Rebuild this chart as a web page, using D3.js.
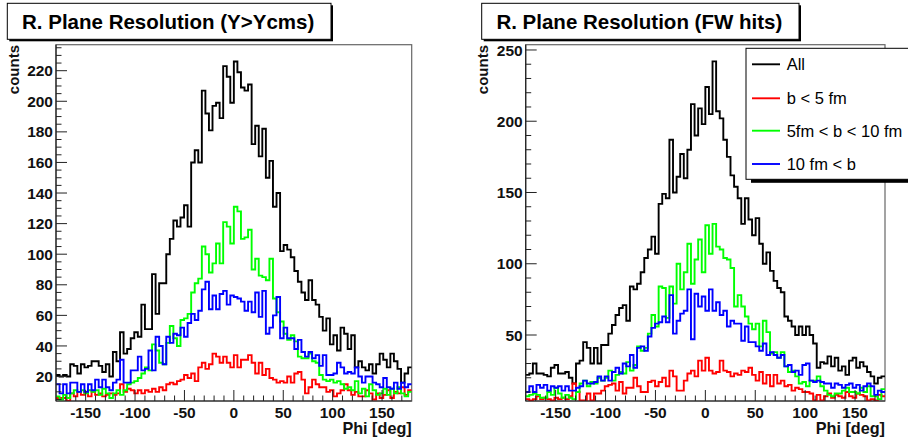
<!DOCTYPE html>
<html><head><meta charset="utf-8">
<script src="https://cdn.jsdelivr.net/npm/d3@7/dist/d3.min.js"></script>
<style>
body{margin:0;background:#fff}
svg{display:block}
text{font-family:"Liberation Sans",Arial,Helvetica,sans-serif}
</style>
</head><body>
<svg id="chart" width="908" height="443"></svg>
<script>
// ---------------- data ----------------
const phiMin = -180, phiMax = 180, nBins = 100;
const seriesNames = ["All", "b < 5 fm", "5fm < b < 10 fm", "10 fm < b"];
const seriesColors = ["#000000", "#ff0000", "#00ff00", "#0000ff"];
const xTickValues = [-150, -100, -50, 0, 50, 100, 150];
const leftYTicks = [20, 40, 60, 80, 100, 120, 140, 160, 180, 200, 220];
const rightYTicks = [50, 100, 150, 200, 250];
const leftTitle = "R. Plane Resolution (Y>Ycms)";
const rightTitle = "R. Plane Resolution (FW hits)";
const xLabel = "Phi [deg]";
const yLabel = "counts";

// left panel (Y>Ycms)
const leftAll = [21,20,21,20,28,27,22,28,26,27, 30,30,27,23,28,20,36,30,49,35,
  38,45,49,46,67,51,51,87,61,81, 81,100,110,122,118,124,132,118,160,168,
  160,207,192,181,197,199,189,223,216,199, 226,219,209,207,211,172,184,164,182,150,
  161,131,140,102,106,103,98,89,82,75, 70,83,70,67,59,50,58,41,47,37,
  52,48,38,47,26,30,26,24,28,22, 28,35,31,26,35,30,25,16,22,26];
const leftB5 = [6,6,6,4,9,7,10,8,10,7, 10,8,9,7,8,9,8,9,15,10,
  12,11,9,11,9,11,10,12,10,13, 11,15,16,15,17,18,21,19,22,17,
  26,29,25,28,35,33,29,33,29,26, 34,26,31,31,34,29,22,29,21,25,
  19,18,16,17,16,20,16,22,23,18, 9,13,18,15,13,13,10,11,7,9,
  11,15,11,8,10,7,7,11,9,5, 9,6,8,11,6,10,9,13,8,11];
const leftB5to10 = [7,5,8,6,9,11,10,11,9,11, 10,11,8,12,9,6,9,11,8,11,
  15,16,17,19,22,26,24,41,37,29, 28,42,53,45,40,57,58,61,75,81,
  84,105,100,88,94,107,94,121,118,107, 131,128,110,111,116,90,97,86,85,83,
  97,71,62,56,48,44,47,43,33,32, 32,35,30,29,21,18,17,18,16,17,
  15,12,13,11,17,9,12,7,15,11, 8,9,12,8,12,9,13,9,7,10];
const leftB10 = [15,9,15,9,16,16,10,15,10,15, 11,18,13,18,13,11,16,18,31,16,
  16,24,24,33,24,25,37,24,46,40, 28,46,42,48,47,52,46,55,61,57,
  63,77,82,64,73,64,74,76,67,73, 72,71,69,63,69,62,75,59,76,48,
  52,60,72,45,52,45,45,38,44,36, 33,36,32,34,27,34,21,21,22,29,
  26,22,23,22,26,20,16,20,20,16, 15,13,19,13,12,16,12,16,13,15];

// right panel (FW hits)
const rightAll = [22,23,30,23,23,22,21,27,29,23, 23,24,20,16,30,32,45,41,30,41,
  30,43,43,51,57,64,69,71,60,84, 82,86,94,104,110,119,107,142,149,146,
  187,150,161,177,160,180,212,190,209,198, 224,205,242,207,202,187,175,162,154,146,
  128,146,131,120,132,114,100,108,95,88, 83,80,63,60,56,50,56,50,56,50,
  44,27,31,30,35,28,34,25,28,22, 32,34,27,31,28,24,21,16,20,21];
const rightB5 = [5,4,5,7,5,6,5,4,6,5, 6,5,7,16,10,4,4,9,4,9,
  9,11,14,15,16,11,17,9,13,13, 20,14,10,10,17,18,14,17,20,14,
  25,21,11,11,18,23,25,21,32,25, 34,25,23,24,32,25,24,21,23,22,
  25,24,27,22,18,24,16,22,14,22, 16,18,14,15,11,13,12,10,10,9,
  4,8,4,7,9,6,8,7,6,10, 7,6,9,8,7,4,5,4,8,7];
const rightB5to10 = [7,8,9,8,6,6,10,8,13,9, 6,8,6,5,10,16,18,14,17,16,
  20,18,20,25,18,22,24,23,31,25, 29,42,39,41,51,64,56,84,83,62,
  84,72,100,82,94,114,86,103,117,94, 127,107,128,112,110,104,103,97,70,78,
  70,63,58,54,58,42,60,52,37,38, 34,38,28,24,25,21,16,17,14,18,
  18,21,14,11,8,7,9,9,11,13, 10,10,9,13,10,14,7,7,5,12];
const rightB10 = [10,14,10,15,13,15,11,14,13,14, 11,14,11,11,13,14,18,16,16,17,
  21,18,21,18,24,27,23,30,28,36, 27,41,42,39,49,55,58,59,63,59,
  78,51,60,65,67,82,47,79,70,77, 67,82,67,73,64,67,56,60,58,58,
  46,56,45,45,42,39,44,36,38,36, 34,36,28,29,24,25,22,29,30,18,
  17,18,17,16,16,13,16,15,13,15, 16,13,15,11,14,16,14,8,11,10];

// ---------------- drawing ----------------
const svg = d3.select("#chart");
const panels = [
  {title: leftTitle, series: [leftAll, leftB5, leftB5to10, leftB10],
   frame: {x0: 56, x1: 411.7, y0: 44.7, y1: 401}, yDomain: [4, 237],
   yTicks: leftYTicks, yMinorStep: 5,
   titleBox: {x0: 7.3, x1: 331, y0: 3.3, y1: 39.3}, countsX: 13, legend: false},
  {title: rightTitle, series: [rightAll, rightB5, rightB5to10, rightB10],
   frame: {x0: 525.7, x1: 885, y0: 44.7, y1: 401}, yDomain: [3.7, 253.7],
   yTicks: rightYTicks, yMinorStep: 10,
   titleBox: {x0: 481.7, x1: 799, y0: 3.3, y1: 39.3}, countsX: 482, legend: true}
];

const binW = (phiMax - phiMin) / nBins;
const edges = d3.range(nBins + 1).map(i => phiMin + i * binW);

panels.forEach((p, pi) => {
  const f = p.frame;
  const x = d3.scaleLinear().domain([phiMin, phiMax]).range([f.x0, f.x1]);
  const y = d3.scaleLinear().domain(p.yDomain).range([f.y1, f.y0]);
  const g = svg.append("g");

  const clipId = "clip" + pi;
  svg.append("clipPath").attr("id", clipId).append("rect")
    .attr("x", f.x0).attr("y", f.y0).attr("width", f.x1 - f.x0).attr("height", f.y1 - f.y0);

  g.append("rect").attr("x", f.x0).attr("y", f.y0)
    .attr("width", f.x1 - f.x0).attr("height", f.y1 - f.y0)
    .attr("fill", "none").attr("stroke", "#666").attr("stroke-width", 1.2);

  const line = d3.line().curve(d3.curveStepAfter).x(d => x(d[0])).y(d => y(d[1]));
  const hg = g.append("g").attr("clip-path", `url(#${clipId})`);
  p.series.forEach((vals, si) => {
    const pts = vals.map((v, i) => [edges[i], v]);
    pts.push([edges[nBins], vals[nBins - 1]]);
    hg.append("path").attr("d", line(pts)).attr("fill", "none")
      .attr("stroke", seriesColors[si]).attr("stroke-width", 1.9)
      .attr("stroke-linejoin", "miter");
  });

  const xMinor = d3.range(-170, 180, 10);
  const ax = g.append("g");
  ax.append("line").attr("x1", f.x0).attr("x2", f.x1).attr("y1", f.y1).attr("y2", f.y1)
    .attr("stroke", "#222").attr("stroke-width", 1.2);
  xMinor.forEach(v => {
    const major = xTickValues.includes(v);
    ax.append("line").attr("x1", x(v)).attr("x2", x(v))
      .attr("y1", f.y1).attr("y2", f.y1 - (major ? 11 : 5.5))
      .attr("stroke", "#222").attr("stroke-width", 1);
  });
  xTickValues.forEach(v => {
    ax.append("text").attr("x", x(v)).attr("y", 417.5).attr("text-anchor", "middle")
      .attr("font-size", 15.5).attr("font-weight", "bold").attr("fill", "#111")
      .text(v < 0 ? "-" + Math.abs(v) : String(v));
  });
  ax.append("text").attr("x", f.x1).attr("y", 434).attr("text-anchor", "end")
    .attr("font-size", 16.2).attr("font-weight", "bold").attr("fill", "#111").text(xLabel);

  const ay = g.append("g");
  ay.append("line").attr("x1", f.x0).attr("x2", f.x0).attr("y1", f.y0).attr("y2", f.y1)
    .attr("stroke", "#222").attr("stroke-width", 1.2);
  const yMinor = d3.range(Math.ceil(p.yDomain[0] / p.yMinorStep) * p.yMinorStep, p.yDomain[1], p.yMinorStep);
  yMinor.forEach(v => {
    const major = p.yTicks.includes(v);
    ay.append("line").attr("x1", f.x0).attr("x2", f.x0 + (major ? 11 : 5.5))
      .attr("y1", y(v)).attr("y2", y(v)).attr("stroke", "#222").attr("stroke-width", 1);
  });
  p.yTicks.forEach(v => {
    ay.append("text").attr("x", f.x0 - 3).attr("y", y(v)).attr("dy", "0.36em")
      .attr("text-anchor", "end").attr("font-size", 15.5).attr("font-weight", "bold")
      .attr("fill", "#111").text(v);
  });
  ay.append("text").attr("transform", `translate(${p.countsX + 5.5},45) rotate(-90)`)
    .attr("text-anchor", "end").attr("font-size", 15).attr("font-weight", "bold")
    .attr("fill", "#111").text(yLabel);

  const tb = p.titleBox;
  g.append("rect").attr("x", tb.x0 + 2).attr("y", tb.y0 + 2)
    .attr("width", tb.x1 - tb.x0).attr("height", tb.y1 - tb.y0).attr("fill", "#000");
  g.append("rect").attr("x", tb.x0).attr("y", tb.y0)
    .attr("width", tb.x1 - tb.x0).attr("height", tb.y1 - tb.y0)
    .attr("fill", "#fff").attr("stroke", "#000").attr("stroke-width", 1);
  g.append("text").attr("x", (tb.x0 + tb.x1) / 2 - 1).attr("y", (tb.y0 + tb.y1) / 2 + 7.3)
    .attr("text-anchor", "middle").attr("font-size", 20.5).attr("font-weight", "bold")
    .attr("fill", "#000").text(p.title);

  if (p.legend) {
    const lx = 746, ly = 48.3, lh = 131;
    g.append("rect").attr("x", lx + 5).attr("y", ly + 2).attr("width", 200).attr("height", lh + 1.5).attr("fill", "#000");
    g.append("rect").attr("x", lx).attr("y", ly).attr("width", 200).attr("height", lh)
      .attr("fill", "#fff").attr("stroke", "#000").attr("stroke-width", 1);
    const rowY = [64.3, 98.3, 130.7, 164];
    seriesNames.forEach((name, si) => {
      g.append("line").attr("x1", 752).attr("x2", 780).attr("y1", rowY[si]).attr("y2", rowY[si])
        .attr("stroke", seriesColors[si]).attr("stroke-width", 1.9);
      g.append("text").attr("x", 786.7).attr("y", rowY[si] + 6).attr("font-size", 16.5)
        .attr("fill", "#000").text(name);
    });
  }
});
</script>
</body></html>
